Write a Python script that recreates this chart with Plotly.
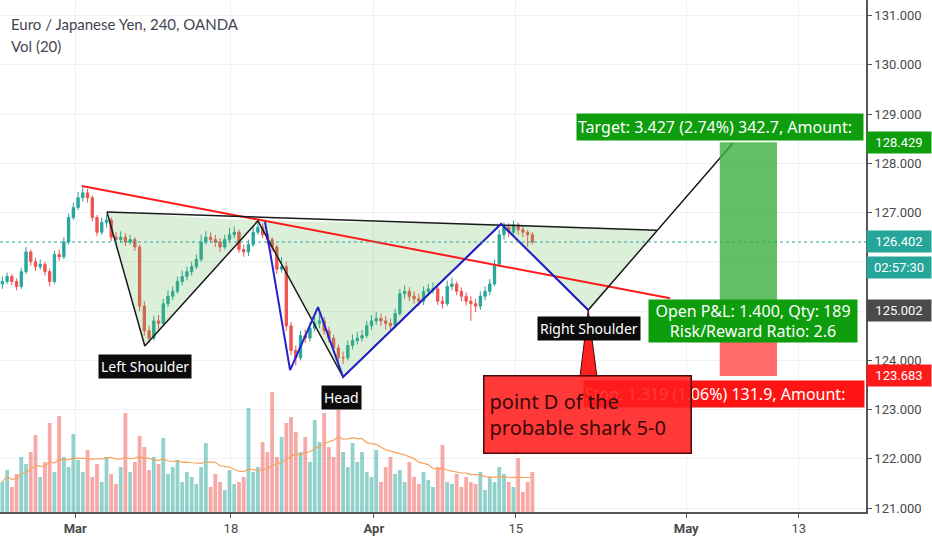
import plotly.graph_objects as go
import pandas as pd

# 4h-ish bars of EUR/JPY (3 bars per trading day)
CLOSE = [125.6, 125.7, 125.6, 125.5, 125.8, 126.2, 126.0, 125.9, 125.95, 125.8,
         125.6, 126.15, 126.1, 126.4, 126.9, 127.1, 127.3, 127.4, 127.3, 126.9,
         126.6, 126.8, 126.85, 126.5, 126.45, 126.5, 126.4, 126.45, 126.3, 125.1,
         124.6, 124.45, 124.8, 124.75, 125.15, 125.3, 125.4, 125.6, 125.7, 125.8,
         125.9, 126.05, 126.4, 126.5, 126.45, 126.4, 126.3, 126.45, 126.55, 126.6,
         126.25, 126.2, 126.35, 126.6, 126.7, 126.55, 126.45, 126.3, 125.85, 125.9,
         124.7, 124.2, 124.05, 124.5, 124.45, 124.65, 124.75, 124.8, 124.6, 124.45,
         124.25, 124.05, 124.05, 124.3, 124.4, 124.45, 124.5, 124.7, 124.8, 124.85,
         124.8, 124.75, 124.7, 124.95, 125.35, 125.4, 125.3, 125.25, 125.2, 125.4,
         125.45, 125.45, 125.2, 125.15, 125.5, 125.55, 125.4, 125.3, 125.2, 125.15,
         125.1, 125.3, 125.4, 125.55, 125.95, 126.55, 126.7, 126.6, 126.75, 126.65,
         126.6, 126.55, 126.402]
HIGH = [125.7, 125.78, 125.75, 125.66, 125.88, 126.3, 126.25, 126.08, 126.05, 126.0,
        125.86, 126.22, 126.25, 126.5, 126.98, 127.2, 127.42, 127.52, 127.48, 127.35,
        126.95, 126.9, 126.95, 126.9, 126.6, 126.62, 126.58, 126.55, 126.5, 126.35,
        125.2, 124.7, 124.9, 124.92, 125.25, 125.42, 125.5, 125.7, 125.82, 125.9,
        126.0, 126.15, 126.55, 126.62, 126.6, 126.55, 126.48, 126.55, 126.68, 126.72,
        126.65, 126.35, 126.45, 126.7, 126.82, 126.78, 126.62, 126.5, 126.35, 126.1,
        126.0, 124.78, 124.3, 124.6, 124.62, 124.78, 124.88, 124.95, 124.88, 124.68,
        124.52, 124.32, 124.18, 124.4, 124.52, 124.58, 124.62, 124.8, 124.92, 124.98,
        124.95, 124.9, 124.85, 125.05, 125.45, 125.52, 125.48, 125.4, 125.35, 125.5,
        125.55, 125.58, 125.5, 125.3, 125.62, 125.68, 125.6, 125.48, 125.38, 125.3,
        125.25, 125.4, 125.5, 125.65, 126.05, 126.65, 126.8, 126.78, 126.84, 126.8,
        126.72, 126.65, 126.6]
LOW = [125.45, 125.55, 125.52, 125.42, 125.45, 125.75, 125.92, 125.82, 125.84, 125.72,
       125.5, 125.55, 126.02, 126.05, 126.35, 126.85, 127.05, 127.22, 127.2, 126.82,
       126.52, 126.55, 126.7, 126.42, 126.35, 126.38, 126.32, 126.35, 126.22, 125.0,
       124.5, 124.35, 124.4, 124.62, 124.7, 125.08, 125.22, 125.35, 125.52, 125.62,
       125.72, 125.85, 126.0, 126.35, 126.38, 126.3, 126.2, 126.25, 126.4, 126.48,
       126.18, 126.1, 126.12, 126.3, 126.55, 126.48, 126.35, 126.2, 125.75, 125.78,
       124.6, 124.1, 123.9, 124.0, 124.35, 124.38, 124.58, 124.65, 124.52, 124.36,
       124.15, 123.85, 123.92, 124.0, 124.22, 124.32, 124.38, 124.45, 124.62, 124.72,
       124.7, 124.62, 124.6, 124.65, 124.9, 125.25, 125.2, 125.15, 125.1, 125.12,
       125.32, 125.35, 125.12, 125.05, 125.1, 125.42, 125.32, 125.2, 125.12, 124.8,
       124.98, 125.02, 125.22, 125.32, 125.5, 125.9, 126.45, 126.5, 126.55, 126.55,
       126.5, 126.3, 126.35]
FIRST_OPEN = 125.55
VOLUME = [30, 42, 25, 38, 55, 48, 60, 77, 35, 50,
          89, 40, 96, 55, 45, 78, 52, 40, 62, 35,
          48, 30, 55, 38, 28, 45, 99, 40, 50, 76,
          65, 42, 55, 48, 74, 38, 45, 52, 30, 40,
          35, 28, 45, 69, 25, 38, 30, 22, 42, 28,
          30, 35, 104, 40, 45, 70, 60, 120, 55, 75,
          89, 95, 80, 60, 75, 50, 92, 70, 99, 65,
          55, 102, 60, 45, 69, 50, 60, 40, 35, 62,
          30, 45, 55, 38, 42, 30, 50, 35, 28, 40,
          32, 25, 45, 67, 30, 28, 38, 25, 35, 30,
          28, 40, 22, 35, 30, 45, 38, 30, 25, 54,
          20, 30, 40]

TICK_POS = [15.4, 48.3, 78.5, 108.5, 144.5, 168.3]
TICK_TEXT = ["<b>Mar</b>", "18", "<b>Apr</b>", "15", "<b>May</b>", "13"]

# drawings (bar index, price)
HS_X = [22.1, 30.1, 54.0, 72.0, 105.4, 123.8, 154.4]
HS_Y = [127.01, 124.29, 126.83, 123.66, 126.77, 125.02, 128.41]
NECK_X = [22.1, 138.3]
NECK_Y = [127.01, 126.64]
SHARK_X = [55.5, 60.8, 66.7, 72.0, 105.4, 123.8]
SHARK_Y = [126.81, 123.80, 125.08, 123.66, 126.77, 125.02]
TREND_X = [16.8, 141.1]
TREND_Y = [127.54, 125.26]

ENTRY, TARGET, STOP, LAST = 125.002, 128.429, 123.683, 126.402
POS_X = [151.6, 163.7]

LABELS = [("Left Shoulder", 30.1, 123.88), ("Head", 71.6, 123.25),
          ("Right Shoulder", 124.0, 124.65)]

UP, DOWN = "#26a69a", "#ef5350"
GRID = "#eef0f3"

bars = list(range(len(CLOSE)))
opens = [FIRST_OPEN] + CLOSE[:-1]
vol_colors = ["rgba(38,166,154,0.5)" if c >= o else "rgba(239,83,80,0.5)"
              for o, c in zip(opens, CLOSE)]
vol_ma = pd.Series(VOLUME).rolling(20, min_periods=1).mean()

fig = go.Figure()

# volume pane
fig.add_trace(go.Bar(x=bars, y=VOLUME, yaxis="y2", width=0.8,
                     marker=dict(color=vol_colors, line_width=0)))
fig.add_trace(go.Scatter(x=bars, y=vol_ma, yaxis="y2", mode="lines",
                         line=dict(color="#f7a35c", width=1.2)))

# H&S shaded triangles
fill = "rgba(90,180,80,0.22)"
tris = [
    ([HS_X[0], HS_X[1], HS_X[2]], [HS_Y[0], HS_Y[1], HS_Y[2]]),
    ([HS_X[2], HS_X[3], HS_X[4]], [HS_Y[2], HS_Y[3], HS_Y[4]]),
    ([HS_X[4], HS_X[5], NECK_X[1]], [HS_Y[4], HS_Y[5], NECK_Y[1]]),
]
for tx, ty in tris:
    fig.add_trace(go.Scatter(x=tx, y=ty, fill="toself", fillcolor=fill,
                             mode="lines", line=dict(width=0)))

# candles
fig.add_trace(go.Candlestick(
    x=bars, open=opens, high=HIGH, low=LOW, close=CLOSE, whiskerwidth=0,
    increasing=dict(line=dict(color=UP, width=1), fillcolor=UP),
    decreasing=dict(line=dict(color=DOWN, width=1), fillcolor=DOWN)))

# last price dotted line
fig.add_hline(y=LAST, line=dict(color=UP, width=1, dash="dot"))

# drawings
fig.add_trace(go.Scatter(x=TREND_X, y=TREND_Y, mode="lines",
                         line=dict(color="#ff1a1a", width=2)))
fig.add_trace(go.Scatter(x=NECK_X, y=NECK_Y, mode="lines",
                         line=dict(color="#1a1a1a", width=1.5)))
fig.add_trace(go.Scatter(x=HS_X, y=HS_Y, mode="lines",
                         line=dict(color="#1a1a1a", width=1.5)))
fig.add_trace(go.Scatter(x=SHARK_X, y=SHARK_Y, mode="lines",
                         line=dict(color="#2222cc", width=2)))

# long position boxes
fig.add_shape(type="rect", x0=POS_X[0], x1=POS_X[1], y0=ENTRY, y1=TARGET,
              fillcolor="rgba(60,175,60,0.8)", line_width=0, layer="above")
fig.add_shape(type="rect", x0=POS_X[0], x1=POS_X[1], y0=STOP, y1=ENTRY,
              fillcolor="rgba(255,80,80,0.85)", line_width=0, layer="above")

# callout pointer
fig.add_trace(go.Scatter(x=[122.05, HS_X[5], 125.65], y=[123.66, HS_Y[5], 123.66],
                         fill="toself", fillcolor="#ff2020", mode="lines",
                         line=dict(color="#4a0a0a", width=1)))

for text, lx, ly in LABELS:
    fig.add_annotation(x=lx, y=ly, text=text, showarrow=False,
                       font=dict(family="Noto Sans", size=14, color="white"),
                       bgcolor="#0b0b0b", borderpad=2)

fig.add_annotation(x=121.2, y=128.73, xanchor="left", width=284, height=24, align="left",
                   text="Target: 3.427 (2.74%) 342.7, Amount:", showarrow=False,
                   font=dict(family="Noto Sans", size=16, color="white"), bgcolor="#0d9d0d")
fig.add_annotation(x=122.7, y=123.32, xanchor="left", width=278, height=24, align="left",
                   text="Stop: 1.319 (1.06%) 131.9, Amount:", showarrow=False,
                   font=dict(family="Noto Sans", size=16, color="white"), bgcolor="#ff1414")
fig.add_annotation(x=158.6, y=124.79, width=206, height=40,
                   text="Open P&amp;L: 1.400, Qty: 189<br>Risk/Reward Ratio: 2.6",
                   showarrow=False, font=dict(family="Noto Sans", size=16, color="white"),
                   bgcolor="#0d9d0d")
fig.add_annotation(x=123.6, y=122.89, width=196, height=66, align="left", borderpad=5,
                   text="point D of the<br>probable shark 5-0", showarrow=False,
                   font=dict(family="Noto Sans", size=20, color="#3a0a0a"),
                   bgcolor="rgba(255,28,28,0.88)", bordercolor="#4a0a0a", borderwidth=1.5)

# price axis tags
tags = [(TARGET, "128.429", "#0d9d0d"), (LAST, "126.402", UP),
        (ENTRY, "125.002", "#4a4a4a"), (STOP, "123.683", "#ff1a1a")]
for val, txt, col in tags:
    fig.add_annotation(xref="paper", x=1, xanchor="left", y=val, text=txt,
                       showarrow=False, width=62, height=19, bgcolor=col,
                       font=dict(family="Roboto", size=13, color="white"))
fig.add_annotation(xref="paper", x=1, xanchor="left", y=LAST, yshift=-26, text="02:57:30",
                   showarrow=False, width=62, height=19, bgcolor=UP,
                   font=dict(family="Roboto", size=13, color="white"))

# header
fig.add_annotation(xref="paper", yref="paper", x=0.01, y=0.953, xanchor="left",
                   yanchor="middle", text="Euro / Japanese Yen, 240, OANDA", showarrow=False,
                   font=dict(family="Lato", size=15, color="#434651"))
fig.add_annotation(xref="paper", yref="paper", x=0.01, y=0.91, xanchor="left",
                   yanchor="middle", text="Vol (20)", showarrow=False,
                   font=dict(family="Lato", size=15, color="#434651"))

fig.update_layout(
    width=932, height=550, margin=dict(l=0, r=66, t=0, b=38),
    paper_bgcolor="white", plot_bgcolor="white", showlegend=False,
    xaxis=dict(range=[-0.5, 182.5], tickvals=TICK_POS, ticktext=TICK_TEXT,
               showgrid=True, gridcolor=GRID, zeroline=False, rangeslider=dict(visible=False),
               ticks="outside", ticklen=4, tickcolor="#555", showline=True,
               linecolor="#555", linewidth=1.5,
               tickfont=dict(family="Roboto", size=13, color="#4a4a4a")),
    yaxis=dict(range=[120.92, 131.315], side="right", dtick=1, tickformat=".3f",
               showgrid=True, gridcolor=GRID, zeroline=False, ticks="outside",
               ticklen=4, tickcolor="#555", showline=True, linecolor="#555",
               linewidth=1.5, tickfont=dict(family="Roboto", size=13, color="#4a4a4a")),
    yaxis2=dict(overlaying="y", range=[0, 512], visible=False),
)

fig.write_html("out.html", config={"displayModeBar": False},
               post_script="document.body.style.margin='0';")
